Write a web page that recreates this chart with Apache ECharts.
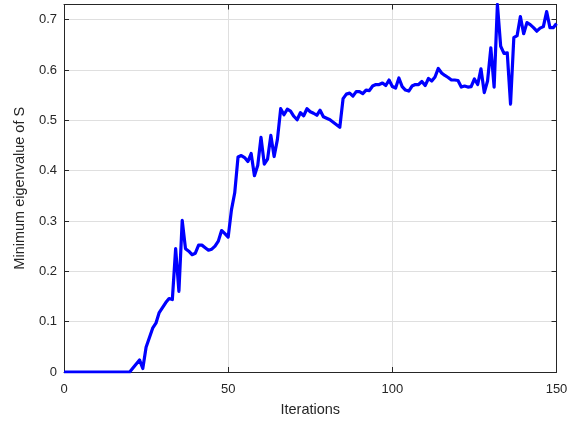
<!DOCTYPE html>
<html>
<head>
<meta charset="utf-8">
<script src="https://cdn.jsdelivr.net/npm/echarts@6/dist/echarts.min.js"></script>
<style>
  html, body { margin: 0; padding: 0; background: #fff; }
  #chart { width: 581px; height: 422px; }
</style>
</head>
<body>
<div id="chart"></div>
<script>
// Minimum eigenvalue of S recorded at each iteration (0..150)
const iterations = Array.from({ length: 151 }, (_, i) => i);
const minEigen = [
  0, 0, 0, 0, 0, 0, 0, 0, 0, 0,
  0, 0, 0, 0, 0, 0, 0, 0, 0, 0,
  0, 0.008, 0.016, 0.024, 0.007, 0.049, 0.068, 0.087, 0.097, 0.118,
  0.128, 0.138, 0.146, 0.144, 0.245, 0.160, 0.301, 0.245, 0.240, 0.233,
  0.236, 0.252, 0.252, 0.247, 0.242, 0.244, 0.250, 0.260, 0.281, 0.275,
  0.268, 0.322, 0.356, 0.427, 0.430, 0.426, 0.418, 0.434, 0.390, 0.410,
  0.466, 0.413, 0.423, 0.470, 0.428, 0.462, 0.523, 0.511, 0.522, 0.518,
  0.508, 0.501, 0.515, 0.509, 0.523, 0.517, 0.514, 0.510, 0.520, 0.507,
  0.504, 0.501, 0.496, 0.491, 0.486, 0.543, 0.552, 0.554, 0.548, 0.557,
  0.557, 0.553, 0.560, 0.559, 0.568, 0.571, 0.571, 0.574, 0.569, 0.580,
  0.567, 0.564, 0.584, 0.567, 0.560, 0.558, 0.568, 0.571, 0.571, 0.577,
  0.569, 0.583, 0.578, 0.586, 0.603, 0.594, 0.589, 0.585, 0.580, 0.580,
  0.579, 0.566, 0.568, 0.566, 0.567, 0.582, 0.571, 0.602, 0.555, 0.578,
  0.644, 0.566, 0.730, 0.647, 0.633, 0.634, 0.532, 0.664, 0.668, 0.706,
  0.672, 0.694, 0.690, 0.684, 0.677, 0.683, 0.686, 0.716, 0.684, 0.684,
  0.692
];
const xTicks = [0, 50, 100, 150];
const yTicks = [0, 0.1, 0.2, 0.3, 0.4, 0.5, 0.6, 0.7];

const axisColor = '#262626';
const gridColor = '#dfdfdf';
const font = '"Liberation Sans", Arial, Helvetica, sans-serif';

const chart = echarts.init(document.getElementById('chart'), null, { renderer: 'canvas' });

function xAxisDef(pos, labeled) {
  return {
    type: 'value', position: pos, min: 0, max: 150, interval: 50,
    name: labeled ? 'Iterations' : '', nameLocation: 'middle', nameGap: 30,
    nameTextStyle: { fontFamily: font, fontSize: 14.5, color: axisColor },
    axisLine: { show: true, onZero: false, lineStyle: { color: axisColor, width: 1 } },
    axisTick: { show: true, inside: true, length: 5, lineStyle: { color: axisColor } },
    axisLabel: {
      show: labeled, fontFamily: font, fontSize: 13, color: axisColor, margin: 11,
      formatter: v => xTicks.includes(v) ? String(v) : ''
    },
    splitLine: { show: labeled, lineStyle: { color: gridColor, width: 1 } }
  };
}
function yAxisDef(pos, labeled) {
  return {
    type: 'value', position: pos, min: 0, max: 0.73, interval: 0.1,
    name: labeled ? 'Minimum eigenvalue of S' : '', nameLocation: 'middle', nameGap: 37,
    nameTextStyle: { fontFamily: font, fontSize: 14.5, color: axisColor },
    axisLine: { show: true, onZero: false, lineStyle: { color: axisColor, width: 1 } },
    axisTick: { show: true, inside: true, length: 5, lineStyle: { color: axisColor } },
    axisLabel: {
      show: labeled, fontFamily: font, fontSize: 13, color: axisColor, margin: 7,
      showMaxLabel: false,
      formatter: v => {
        const t = yTicks.find(k => Math.abs(k - v) < 1e-6);
        return t === undefined ? '' : String(t);
      }
    },
    splitLine: { show: labeled, lineStyle: { color: gridColor, width: 1 } }
  };
}

chart.setOption({
  animation: false,
  backgroundColor: '#ffffff',
  grid: { left: 64, right: 24.5, top: 4.5, bottom: 48, containLabel: false },
  xAxis: [xAxisDef('bottom', true), xAxisDef('top', false)],
  yAxis: [yAxisDef('left', true), yAxisDef('right', false)],
  series: [{
    type: 'line',
    xAxisIndex: 0, yAxisIndex: 0,
    data: iterations.map((it, i) => [it, minEigen[i]]),
    showSymbol: false,
    lineStyle: { color: '#0000ff', width: 3.2, join: 'round' },
    itemStyle: { color: '#0000ff' }
  }]
});
</script>
</body>
</html>
